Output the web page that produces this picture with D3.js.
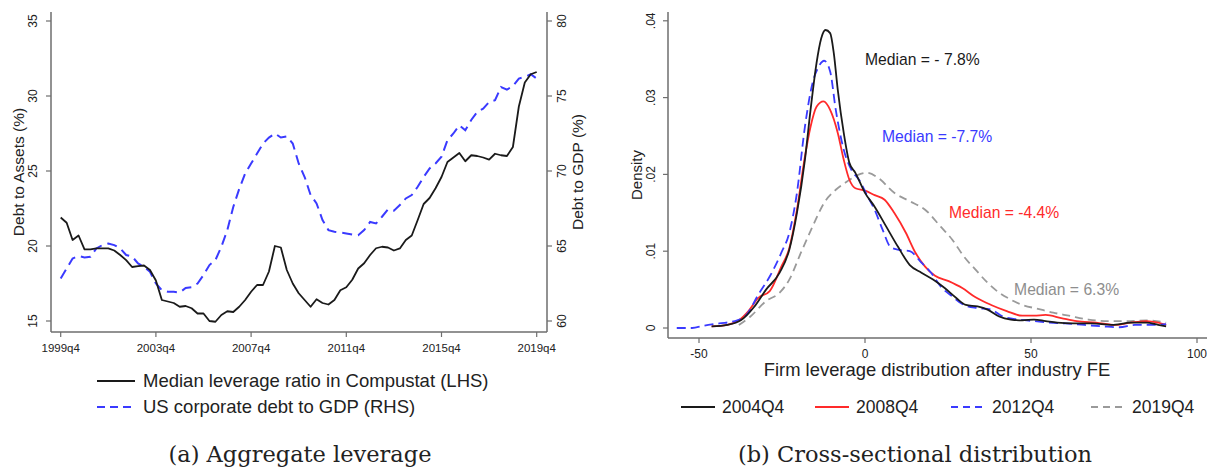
<!DOCTYPE html>
<html>
<head>
<meta charset="utf-8">
<script src="https://cdn.jsdelivr.net/npm/d3@7"></script>
<style>
  html, body { margin: 0; padding: 0; background: #fff; }
  svg { display: block; }
  text { font-family: "Liberation Sans", Arial, sans-serif; fill: #222; }
</style>
</head>
<body>
<svg id="chart" width="1207" height="467"></svg>
<script>
// ---------- Panel (a): aggregate leverage, quarterly 1999q4 – 2019q4 ----------
const firstYear = 1999;           // first observation is 1999q4
const xTickLabels = ["1999q4", "2003q4", "2007q4", "2011q4", "2015q4", "2019q4"];
const leftTicks = [15, 20, 25, 30, 35];
const rightTicks = [60, 65, 70, 75, 80];

// Median leverage ratio in Compustat (LHS, %)
const medianLeverage = [
  21.9, 21.55, 20.4, 20.7, 19.77, 19.77, 19.84, 19.84, 19.84, 19.7,
  19.4, 19.06, 18.6, 18.66, 18.7, 18.4, 17.7, 16.4, 16.3, 16.2,
  15.95, 16.0, 15.85, 15.5, 15.5, 15.0, 14.95, 15.4, 15.65, 15.6,
  15.95, 16.4, 16.95, 17.4, 17.4, 18.3, 20.0, 19.9, 18.4, 17.5,
  16.85, 16.4, 15.95, 16.45, 16.2, 16.1, 16.4, 17.05, 17.25, 17.75,
  18.5, 18.85, 19.4, 19.85, 19.95, 19.9, 19.7, 19.84, 20.4, 20.7,
  21.73, 22.8, 23.2, 23.85, 24.6, 25.6, 25.9, 26.2, 25.65, 26.05,
  26.0, 25.9, 25.76, 26.15, 26.05, 26.0, 26.6, 29.3, 30.9, 31.45,
  31.6
];

// US corporate debt to GDP (RHS, %)
const debtToGdp = [
  62.84, 63.5, 64.17, 64.33, 64.24, 64.28, 64.84, 65.06, 65.17, 65.06,
  64.84, 64.4, 64.3, 63.84, 63.6, 63.28, 62.5, 62.06, 61.95, 61.95,
  61.9, 62.2, 62.25, 62.5, 63.06, 63.73, 64.06, 64.95, 66.06, 67.6,
  68.8, 69.83, 70.5, 71.16, 71.83, 72.23, 72.5, 72.23, 72.3, 71.83,
  70.5, 69.6, 68.4, 67.84, 66.73, 66.06, 65.95, 65.9, 65.84, 65.77,
  65.72, 66.06, 66.6, 66.5, 66.95, 67.44, 67.35, 67.73, 68.17, 68.4,
  68.95, 69.6, 70.17, 70.5, 70.95, 72.05, 72.5, 73.05, 72.72, 73.4,
  73.94, 74.16, 74.6, 74.72, 75.6, 75.43, 75.65, 76.16, 76.27, 76.45,
  76.16
];

// ---------- Panel (b): cross-sectional leverage densities ----------
const densityX = {
  "2004Q4": [-46.2, -41.5, -37.4, -33.3, -29.8, -25.7, -22.8, -20.5, -18.1, -16.4, -14.6, -13.2, -11.9, -10.5, -9.4, -8.2, -6.4, -4.7, -2.9, 0, 2.9, 6.4, 9.9, 13.5, 17, 20.5, 24, 27.5, 30.4, 33.9, 36.9, 40.4, 43.9, 47.4, 50.9, 54.4, 57.9, 62.6, 68.4, 74.3, 80.1, 84.8, 88.3, 90.7],
  "2008Q4": [-46.2, -41.5, -38, -35.1, -32.2, -28.7, -25.2, -22.8, -20.5, -18.1, -16.4, -14.6, -12.5, -10.5, -8.2, -6.4, -4.7, -2.9, 0, 2.9, 5.9, 8.8, 12.3, 15.2, 18.1, 21.1, 25.2, 29.3, 33.3, 38, 42.7, 47.4, 50.9, 54.4, 59.1, 63.8, 69.6, 75.5, 80.1, 84.8, 88.3, 90.7],
  "2012Q4": [-56.7, -52.1, -48.6, -43.9, -39.2, -35.7, -32.2, -28.7, -25.2, -22.8, -20.5, -18.1, -15.8, -14, -12.3, -10.5, -8.8, -6.4, -4.1, -1.8, 0.6, 2.9, 5.3, 7.6, 9.9, 13.5, 17, 19.9, 22.8, 26.3, 29.8, 33.9, 38, 41.5, 46.2, 50.9, 55.6, 60.3, 66.1, 72, 76.6, 81.3, 86, 90.7],
  "2019Q4": [-38, -34.5, -29.8, -25.7, -22.8, -19.3, -15.8, -12.3, -8.8, -5.3, -2.3, 0.6, 4.1, 8.8, 13.5, 18.1, 22.8, 26.3, 29.8, 33.3, 36.9, 40.4, 43.9, 47.4, 52.1, 56.7, 61.4, 67.3, 73.1, 79, 84.8, 90.7]
};
const densityY = {
  "2004Q4": [0.0002, 0.0004, 0.001, 0.0028, 0.005, 0.0072, 0.0102, 0.015, 0.0219, 0.0284, 0.0345, 0.0377, 0.0388, 0.0384, 0.0358, 0.031, 0.0254, 0.0215, 0.0202, 0.0176, 0.0158, 0.0132, 0.0106, 0.0082, 0.0072, 0.0063, 0.0052, 0.0039, 0.003, 0.0028, 0.0024, 0.0015, 0.0011, 0.001, 0.0011, 0.0009, 0.0007, 0.0006, 0.0006, 0.0004, 0.0007, 0.0007, 0.0004, 0.0002],
  "2008Q4": [0.0002, 0.0004, 0.001, 0.0022, 0.0039, 0.0048, 0.008, 0.0104, 0.0154, 0.0223, 0.0262, 0.0288, 0.0295, 0.0284, 0.0254, 0.0219, 0.0193, 0.0182, 0.0179, 0.0173, 0.0167, 0.015, 0.0124, 0.0098, 0.008, 0.0068, 0.0061, 0.0052, 0.004, 0.003, 0.0022, 0.0016, 0.0016, 0.0017, 0.0013, 0.0009, 0.0007, 0.0004, 0.0007, 0.0009, 0.0007, 0.0004],
  "2012Q4": [0, 0, 0.0003, 0.0006, 0.0009, 0.0017, 0.0043, 0.0067, 0.0098, 0.0124, 0.0176, 0.0262, 0.0319, 0.034, 0.0348, 0.0334, 0.0284, 0.0232, 0.0206, 0.0193, 0.0173, 0.0154, 0.0128, 0.0106, 0.0102, 0.01, 0.0085, 0.0072, 0.0054, 0.0041, 0.003, 0.0026, 0.0024, 0.0015, 0.0011, 0.0009, 0.0007, 0.0006, 0.0004, 0.0002, 0.0001, 0.0004, 0.0004, 0.0005],
  "2019Q4": [0.0004, 0.0015, 0.0035, 0.0046, 0.0063, 0.0098, 0.0132, 0.0163, 0.018, 0.0191, 0.0199, 0.0202, 0.0195, 0.0176, 0.0165, 0.0154, 0.0132, 0.0115, 0.0093, 0.0076, 0.0059, 0.0046, 0.0037, 0.003, 0.0025, 0.002, 0.0016, 0.0011, 0.0009, 0.0009, 0.001, 0.0007]
};
const densityYears = ["2004Q4", "2008Q4", "2012Q4", "2019Q4"];
const densityXTicks = [-50, 0, 50, 100];
const densityYTicks = [0, 0.01, 0.02, 0.03, 0.04];
const medianLabels = ["Median = - 7.8%", "Median = -4.4%", "Median = -7.7%", "Median = 6.3%"];
// label anchors in data units (x = leverage, y = density)
const medianAnchorX = [0, 25.3, 5.1, 44.9];
const medianAnchorY = [0.0349, 0.0150, 0.0249, 0.00495];

// ---------- styling ----------
const axisColor = "#6e6e6e";
const seriesStyle = {
  "2004Q4": { color: "#1a1a1a", dash: null },
  "2008Q4": { color: "#ff2a2a", dash: null },
  "2012Q4": { color: "#3a3aff", dash: "9,5" },
  "2019Q4": { color: "#9a9a9a", dash: "8,5" }
};

const svg = d3.select("#chart");

// ======================= Panel (a) =======================
const qLabels = medianLeverage.map((_, i) => {
  const q = 4 + i;                      // quarter counter starting at q4
  const yr = firstYear + Math.floor((q - 1) / 4);
  return yr + "q" + (((q - 1) % 4) + 1);
});

const aX = d3.scalePoint().domain(qLabels).range([60.7, 536.7]);
const aYL = d3.scaleLinear().domain([15, 35]).range([321, 21]);
const aYR = d3.scaleLinear().domain([60, 80]).range([321, 21]);

const a = svg.append("g");

// axis lines (left, right, bottom)
a.append("line").attr("x1", 51).attr("x2", 51).attr("y1", 12).attr("y2", 332)
  .attr("stroke", axisColor).attr("stroke-width", 1.5);
a.append("line").attr("x1", 547).attr("x2", 547).attr("y1", 12).attr("y2", 332)
  .attr("stroke", axisColor).attr("stroke-width", 1.5);
a.append("line").attr("x1", 51).attr("x2", 547).attr("y1", 332).attr("y2", 332)
  .attr("stroke", axisColor).attr("stroke-width", 1.5);

// left ticks
leftTicks.forEach(t => {
  const y = aYL(t);
  a.append("line").attr("x1", 46).attr("x2", 51).attr("y1", y).attr("y2", y)
    .attr("stroke", axisColor).attr("stroke-width", 1.2);
  a.append("text").attr("transform", `translate(37,${y}) rotate(-90)`)
    .attr("text-anchor", "middle").attr("font-size", 12).text(t);
});
// right ticks
rightTicks.forEach(t => {
  const y = aYR(t);
  a.append("line").attr("x1", 547).attr("x2", 552).attr("y1", y).attr("y2", y)
    .attr("stroke", axisColor).attr("stroke-width", 1.2);
  a.append("text").attr("transform", `translate(566,${y}) rotate(-90)`)
    .attr("text-anchor", "middle").attr("font-size", 12).text(t);
});
// bottom ticks
xTickLabels.forEach(lbl => {
  const x = aX(lbl);
  a.append("line").attr("x1", x).attr("x2", x).attr("y1", 332).attr("y2", 337)
    .attr("stroke", axisColor).attr("stroke-width", 1.2);
  a.append("text").attr("x", x).attr("y", 352).attr("text-anchor", "middle")
    .attr("font-size", 11.5).text(lbl);
});

// axis titles
a.append("text").attr("transform", "translate(24,172) rotate(-90)")
  .attr("text-anchor", "middle").attr("font-size", 15.5).text("Debt to Assets (%)");
a.append("text").attr("transform", "translate(583,172) rotate(-90)")
  .attr("text-anchor", "middle").attr("font-size", 15.5).text("Debt to GDP (%)");

// series
const lineLev = d3.line().x((d, i) => aX(qLabels[i])).y(d => aYL(d));
const lineGdp = d3.line().x((d, i) => aX(qLabels[i])).y(d => aYR(d));

a.append("path").datum(debtToGdp).attr("d", lineGdp)
  .attr("fill", "none").attr("stroke", "#3a3aff").attr("stroke-width", 2)
  .attr("stroke-dasharray", "10,6");
a.append("path").datum(medianLeverage).attr("d", lineLev)
  .attr("fill", "none").attr("stroke", "#1a1a1a").attr("stroke-width", 1.8)
  .attr("stroke-linejoin", "round");

// legend
const aLegend = [
  { label: "Median leverage ratio in Compustat (LHS)", color: "#1a1a1a", dash: null, y: 381 },
  { label: "US corporate debt to GDP (RHS)", color: "#3a3aff", dash: "8,5", y: 407 }
];
aLegend.forEach(l => {
  a.append("line").attr("x1", 97).attr("x2", 135).attr("y1", l.y).attr("y2", l.y)
    .attr("stroke", l.color).attr("stroke-width", 2)
    .attr("stroke-dasharray", l.dash);
  a.append("text").attr("x", 143).attr("y", l.y).attr("dy", "0.35em")
    .attr("font-size", 18.5).text(l.label);
});

// caption
a.append("text").attr("x", 300).attr("y", 462).attr("text-anchor", "middle")
  .style("font-family", "'DejaVu Serif', serif").attr("font-size", 22.5)
  .text("(a) Aggregate leverage");

// ======================= Panel (b) =======================
const bX = d3.scaleLinear().domain([-50, 100]).range([699, 1197]);
const bY = d3.scaleLinear().domain([0, 0.04]).range([328, 20.8]);
const b = svg.append("g");

b.append("line").attr("x1", 668).attr("x2", 668).attr("y1", 12).attr("y2", 338)
  .attr("stroke", axisColor).attr("stroke-width", 1.5);
b.append("line").attr("x1", 668).attr("x2", 1207).attr("y1", 338).attr("y2", 338)
  .attr("stroke", axisColor).attr("stroke-width", 1.5);

densityYTicks.forEach(t => {
  const y = bY(t);
  b.append("line").attr("x1", 663).attr("x2", 668).attr("y1", y).attr("y2", y)
    .attr("stroke", axisColor).attr("stroke-width", 1.2);
  b.append("text").attr("transform", `translate(655,${y}) rotate(-90)`)
    .attr("text-anchor", "middle").attr("font-size", 12)
    .text(t === 0 ? "0" : d3.format(".2f")(t).replace(/^0/, ""));
});
densityXTicks.forEach(t => {
  const x = bX(t);
  b.append("line").attr("x1", x).attr("x2", x).attr("y1", 338).attr("y2", 343)
    .attr("stroke", axisColor).attr("stroke-width", 1.2);
  b.append("text").attr("x", x).attr("y", 358).attr("text-anchor", "middle")
    .attr("font-size", 12).text(t);
});

b.append("text").attr("transform", "translate(642,175) rotate(-90)")
  .attr("text-anchor", "middle").attr("font-size", 15).text("Density");
b.append("text").attr("x", 937).attr("y", 376).attr("text-anchor", "middle")
  .attr("font-size", 18.4).text("Firm leverage distribution after industry FE");

const dLine = d3.line().curve(d3.curveMonotoneX)
  .x(d => bX(d[0])).y(d => bY(d[1]));

["2019Q4", "2008Q4", "2012Q4", "2004Q4"].forEach(k => {
  const pts = densityX[k].map((x, i) => [x, densityY[k][i]]);
  const s = seriesStyle[k];
  b.append("path").datum(pts).attr("d", dLine)
    .attr("fill", "none").attr("stroke", s.color).attr("stroke-width", 1.8)
    .attr("stroke-dasharray", s.dash);
});

// median annotations
const medianColors = ["#1a1a1a", "#ff2a2a", "#3a3aff", "#8e8e8e"];
medianLabels.forEach((t, i) => {
  b.append("text").attr("x", bX(medianAnchorX[i])).attr("y", bY(medianAnchorY[i]))
    .attr("dy", "0.35em").attr("font-size", 15.7)
    .style("fill", medianColors[i]).text(t);
});

// legend
const legendX = [681, 815, 951, 1091];
densityYears.forEach((k, i) => {
  const s = seriesStyle[k];
  b.append("line").attr("x1", legendX[i]).attr("x2", legendX[i] + 34)
    .attr("y1", 407).attr("y2", 407)
    .attr("stroke", s.color).attr("stroke-width", 2)
    .attr("stroke-dasharray", s.dash ? "7,5" : null);
  b.append("text").attr("x", legendX[i] + 41).attr("y", 407).attr("dy", "0.35em")
    .attr("font-size", 17.5).text(k);
});

// caption
b.append("text").attr("x", 915).attr("y", 462).attr("text-anchor", "middle")
  .style("font-family", "'DejaVu Serif', serif").attr("font-size", 22.5)
  .text("(b) Cross-sectional distribution");
</script>
</body>
</html>
